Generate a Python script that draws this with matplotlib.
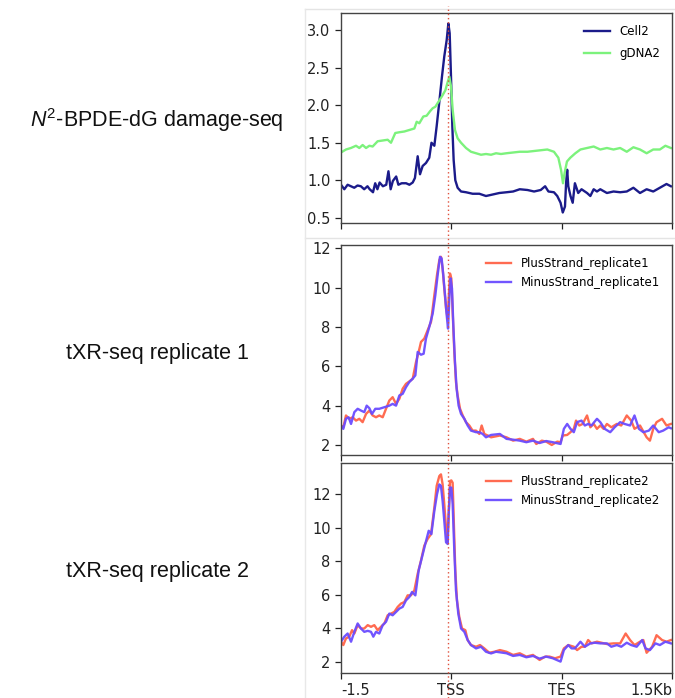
import numpy as np
import matplotlib
matplotlib.use("Agg")
import matplotlib.pyplot as plt
from matplotlib.lines import Line2D

plt.rcParams['mathtext.fontset'] = 'custom'
plt.rcParams['mathtext.rm'] = 'Liberation Sans'
plt.rcParams['mathtext.it'] = 'Liberation Sans:italic'

# x is in profile bins: 0 = -1.5kb, 100 = TSS, 200 = TES, 300 = +1.5kb
xtick_pos = [0, 100, 200, 300]
xtick_labels = ["-1.5", "TSS", "TES", "1.5Kb"]
row_labels = [r"$\mathit{N}^{2}$-BPDE-dG damage-seq", "tXR-seq replicate 1", "tXR-seq replicate 2"]

# damage-seq panel
cell2_bin = [0, 3, 6, 9, 12, 15, 18, 21, 24, 26, 29, 31, 33, 35, 38, 41, 43, 45, 47, 50,
             52, 55, 59, 62, 65, 67, 69.5, 71.6, 74, 77, 80, 82, 84.6, 86.7, 89, 91.5, 93.6,
             95.8, 97.3, 98.5, 99.7, 100.9, 102.1, 103.6, 105.7, 108.8, 113.3, 119.3, 125.4,
             131.4, 137.5, 143.5, 150, 156, 162, 169, 175, 181, 185, 188, 193, 196, 199, 201,
             203, 204, 205, 206, 208, 210, 212, 215, 218, 223, 226, 229, 232, 235, 241, 247,
             253, 259, 265, 271, 277, 283, 289, 295, 299]
cell2_val = [0.94, 0.88, 0.94, 0.92, 0.90, 0.93, 0.92, 0.88, 0.92, 0.88, 0.84, 0.96, 0.88,
             0.97, 0.92, 0.94, 1.12, 0.88, 0.99, 1.05, 0.94, 0.96, 0.96, 0.94, 0.97, 1.03,
             1.32, 1.08, 1.19, 1.23, 1.30, 1.50, 1.46, 1.72, 2.03, 2.38, 2.65, 2.87, 3.09,
             2.96, 2.38, 1.72, 1.27, 1.00, 0.90, 0.85, 0.84, 0.82, 0.82, 0.79, 0.81, 0.83,
             0.84, 0.85, 0.88, 0.87, 0.85, 0.87, 0.92, 0.85, 0.84, 0.79, 0.70, 0.57, 0.65,
             0.96, 1.14, 0.92, 0.79, 0.70, 0.96, 0.83, 0.88, 0.83, 0.79, 0.88, 0.85, 0.88,
             0.83, 0.85, 0.84, 0.85, 0.90, 0.83, 0.88, 0.85, 0.90, 0.95, 0.92]

gdna2_bin = [0, 4.5, 9, 13.6, 16.6, 19.6, 22.7, 25.7, 28.7, 33.2, 37.8, 42.3, 45.3, 49.2,
             52.9, 57.4, 61.9, 66.5, 68.6, 71, 74.6, 77.6, 80.7, 83.1, 85.5, 88.5, 91.5, 94.6,
             96.7, 98.2, 99.7, 101.2, 103.3, 105.7, 108.8, 113.3, 117.8, 122.4, 126.9, 131.4,
             136, 140.5, 145, 150, 156, 162, 169, 175, 181, 187, 193, 197, 199.4, 201.2,
             202.7, 204.8, 207.8, 212.4, 217, 223, 229, 235, 241, 247, 253, 259, 265, 271,
             277, 283, 289, 294, 299]
gdna2_val = [1.37, 1.41, 1.43, 1.46, 1.43, 1.47, 1.43, 1.46, 1.45, 1.52, 1.53, 1.54, 1.50,
             1.63, 1.64, 1.65, 1.67, 1.69, 1.78, 1.76, 1.85, 1.86, 1.92, 1.96, 1.98, 2.05,
             2.12, 2.20, 2.31, 2.38, 2.25, 1.94, 1.67, 1.56, 1.50, 1.43, 1.38, 1.36, 1.34,
             1.35, 1.34, 1.36, 1.35, 1.36, 1.37, 1.38, 1.38, 1.39, 1.40, 1.41, 1.38, 1.30,
             1.14, 0.96, 1.10, 1.25, 1.30, 1.36, 1.41, 1.43, 1.45, 1.41, 1.43, 1.41, 1.43,
             1.38, 1.44, 1.41, 1.36, 1.41, 1.41, 1.46, 1.43]

# tXR-seq replicate 1
plus1_bin = [0, 2.1, 4.5, 7.5, 10.6, 13.6, 16.6, 19.6, 22.7, 25.7, 28.7, 31.7, 34.7, 37.8,
             40.8, 43.8, 46.8, 49.9, 52.9, 55.9, 58.9, 61.9, 65, 68, 70.4, 72.5, 75.5, 78.5,
             81.6, 84.6, 87, 89.1, 90.6, 92.1, 93.6, 95.2, 96.7, 97.6, 98.8, 100, 101.2,
             102.7, 104.2, 105.7, 107.9, 110.3, 113.3, 116.3, 119.3, 122.4, 125.4, 127.5,
             129.9, 133, 136, 144, 150, 156, 162, 168, 174, 177, 182, 186, 191, 196, 199,
             201, 205, 208, 211, 213, 216, 219, 223, 226, 229, 232, 235, 238, 241, 245, 250,
             254, 259, 263, 266, 271, 277, 280, 283, 286, 291, 295, 299]
plus1_val = [2.99, 2.90, 3.50, 3.33, 3.41, 3.24, 3.33, 3.16, 3.58, 3.75, 3.50, 3.41, 3.50,
             3.41, 3.84, 4.26, 4.43, 4.09, 4.35, 4.86, 5.11, 5.23, 5.37, 6.22, 6.73, 7.24,
             7.41, 7.83, 8.26, 9.62, 10.64, 11.40, 11.57, 10.98, 9.96, 8.94, 8.43, 9.45,
             10.72, 10.47, 8.77, 6.73, 5.20, 4.52, 3.84, 3.50, 3.16, 2.99, 2.73, 2.73, 2.56,
             2.99, 2.56, 2.48, 2.39, 2.48, 2.39, 2.22, 2.31, 2.17, 2.31, 2.05, 2.22, 2.17,
             2.00, 2.17, 2.14, 2.48, 2.51, 2.65, 2.82, 3.24, 2.99, 3.07, 3.50, 2.90, 3.07,
             2.82, 2.99, 2.82, 3.07, 2.90, 3.07, 2.99, 3.50, 3.24, 2.82, 2.99, 2.39, 2.22,
             2.82, 3.16, 3.33, 2.99, 3.07]

minus1_bin = [0, 2.1, 4.5, 6.9, 9.1, 12.1, 15.1, 18.1, 21.1, 23.3, 25.7, 28.1, 31.1, 34.7,
              39.3, 43.8, 46.8, 49.9, 52.9, 55.9, 58.9, 61.9, 65, 67.4, 69.5, 72.5, 74.9, 77,
              80, 83.1, 85.5, 87.6, 89.7, 91.2, 92.7, 94.3, 95.8, 97, 98.2, 99.4, 100.6,
              101.8, 103.3, 104.8, 106.6, 108.8, 111.8, 114.8, 117.8, 122.4, 125.4, 128.4,
              131.4, 136, 144, 150, 156, 162, 168, 174, 180, 186, 192, 199, 202, 205, 208,
              211, 214, 218, 221, 224, 227, 232, 235, 239, 244, 248, 253, 257, 262, 266, 270,
              274, 279, 283, 288, 292, 297, 299]
minus1_val = [2.99, 2.82, 3.33, 3.41, 3.07, 3.67, 3.84, 3.75, 3.67, 4.00, 3.87, 3.58, 3.84,
              3.84, 3.92, 4.00, 4.09, 4.00, 4.52, 4.60, 4.94, 5.20, 5.37, 5.54, 6.73, 6.59,
              6.64, 7.41, 8.00, 8.68, 9.62, 10.64, 11.57, 11.49, 10.64, 9.62, 8.60, 7.92,
              9.45, 10.47, 9.96, 8.09, 6.22, 4.86, 4.00, 3.58, 3.33, 2.99, 2.73, 2.65, 2.65,
              2.56, 2.39, 2.51, 2.56, 2.31, 2.27, 2.22, 2.14, 2.22, 2.10, 2.20, 2.14, 2.05,
              2.82, 3.07, 2.82, 2.65, 3.16, 3.24, 2.99, 3.07, 2.99, 3.33, 3.16, 2.82, 2.65,
              2.90, 3.16, 3.07, 2.99, 3.50, 2.82, 2.65, 2.73, 2.99, 2.65, 2.73, 2.90, 2.85]

# tXR-seq replicate 2
plus2_bin = [0, 2.1, 4.5, 7.5, 10, 12.1, 15.1, 18.1, 21.1, 24.2, 27.2, 30.2, 33.2, 36.2,
             39.3, 42.3, 45.3, 48.3, 51.4, 54.4, 57.4, 60.4, 63.4, 66.5, 69.5, 72.5, 75.5,
             78.5, 81.6, 84.6, 86.7, 89.1, 90.6, 92.1, 93.6, 95.2, 96.4, 97.6, 98.8, 100,
             101.2, 102.4, 103.6, 105.1, 107.2, 109.7, 112.7, 114.8, 117.8, 122.4, 126,
             129.9, 134.4, 139, 144, 150, 156, 162, 168, 174, 180, 185, 189, 194, 199, 202,
             206, 211, 214, 218, 221, 224, 227, 232, 236, 241, 247, 253, 258, 262, 266, 271,
             274, 277, 282, 286, 291, 295, 299]
plus2_val = [3.19, 2.99, 3.39, 3.49, 3.88, 3.68, 4.18, 3.98, 3.98, 4.18, 4.08, 4.18, 3.88,
             4.08, 4.28, 4.77, 4.87, 4.97, 5.27, 5.47, 5.56, 5.96, 5.96, 6.26, 7.25, 8.04,
             8.93, 9.33, 9.62, 11.21, 12.50, 13.09, 13.19, 12.59, 11.41, 10.02, 9.13, 10.81,
             12.79, 12.83, 12.69, 10.02, 7.45, 5.66, 4.67, 3.98, 3.88, 3.29, 2.99, 2.89,
             2.99, 2.79, 2.53, 2.59, 2.69, 2.59, 2.40, 2.50, 2.30, 2.40, 2.10, 2.30, 2.30,
             2.20, 2.30, 2.79, 2.99, 2.89, 2.69, 2.89, 2.89, 3.29, 3.09, 3.19, 3.13, 3.05,
             3.09, 3.09, 3.68, 3.29, 2.99, 3.19, 3.29, 2.53, 2.89, 3.58, 3.29, 3.19, 3.29]

minus2_bin = [0, 3, 6, 9.1, 12.1, 15.1, 18.1, 21.1, 24.2, 27.2, 29.3, 31.7, 34.7, 37.8,
              40.8, 43.8, 46.8, 49.9, 52.9, 55.9, 58.9, 61.9, 64.4, 67.4, 70.4, 73.4, 76.4,
              79.5, 81.9, 84.6, 87, 89.1, 90.6, 92.1, 93.6, 95.2, 96.7, 97.6, 98.8, 100,
              101.2, 102.7, 104.2, 106.3, 108.8, 111.8, 114.8, 117.8, 122.4, 126.9, 131.4,
              136, 140.5, 150, 156, 162, 168, 174, 180, 186, 192, 199, 202, 206, 209, 212,
              217, 221, 226, 230, 235, 241, 245, 250, 254, 259, 263, 268, 273, 276, 280, 285,
              289, 294, 299]
minus2_val = [3.19, 3.49, 3.68, 3.19, 3.78, 4.28, 3.98, 3.78, 3.84, 3.78, 3.49, 3.78, 3.68,
              4.18, 4.38, 4.87, 4.77, 4.97, 5.17, 5.27, 5.66, 5.86, 6.16, 5.96, 7.45, 8.24,
              9.03, 9.82, 9.62, 11.01, 12.00, 12.59, 12.50, 11.60, 10.42, 9.13, 9.03, 10.81,
              12.40, 12.40, 11.41, 8.63, 6.26, 4.87, 3.98, 3.78, 3.29, 2.99, 2.79, 2.89,
              2.59, 2.49, 2.59, 2.50, 2.34, 2.40, 2.26, 2.34, 2.18, 2.30, 2.20, 2.00, 2.69,
              2.99, 2.79, 2.79, 3.19, 2.89, 3.09, 3.13, 3.09, 3.09, 2.89, 2.99, 2.89, 3.13,
              2.99, 2.89, 3.29, 2.79, 2.69, 3.09, 2.99, 3.19, 3.09]

panels = [
    dict(series=[("Cell2", cell2_bin, cell2_val, "#1b1b8a"),
                 ("gDNA2", gdna2_bin, gdna2_val, "#7cf27c")],
         ylim=(0.43, 3.23), yticks=[0.5, 1.0, 1.5, 2.0, 2.5, 3.0], yfmt="{:.1f}", lspace=0.75),
    dict(series=[("PlusStrand_replicate1", plus1_bin, plus1_val, "#ff6347"),
                 ("MinusStrand_replicate1", minus1_bin, minus1_val, "#6a4cff")],
         ylim=(1.49, 12.17), yticks=[2, 4, 6, 8, 10, 12], yfmt="{:d}", lspace=0.5),
    dict(series=[("PlusStrand_replicate2", plus2_bin, plus2_val, "#ff6347"),
                 ("MinusStrand_replicate2", minus2_bin, minus2_val, "#6a4cff")],
         ylim=(1.32, 13.87), yticks=[2, 4, 6, 8, 10, 12], yfmt="{:d}", lspace=0.5),
]

W, H = 675, 698
fig = plt.figure(figsize=(W / 100, H / 100), dpi=100)

# axes boxes in pixels: (top, bottom)
boxes = [(13, 223), (245, 455), (463, 673)]
left_px, right_px = 341, 672
label_y = [120, 353, 572]

for i, (p, (top, bot)) in enumerate(zip(panels, boxes)):
    ax = fig.add_axes([left_px / W, 1 - bot / H, (right_px - left_px) / W, (bot - top) / H])
    for name, xb, yv, c in p["series"]:
        ax.plot(xb, yv, color=c, lw=1.7, label=name, alpha=0.95 if i else 1.0)
    ax.set_xlim(0, 300)
    ax.set_ylim(*p["ylim"])
    ax.set_yticks(p["yticks"])
    ax.set_yticklabels([p["yfmt"].format(v) for v in p["yticks"]])
    ax.set_xticks(xtick_pos)
    if i == 2:
        ax.set_xticklabels(xtick_labels)
        lbls = ax.get_xticklabels()
        lbls[0].set_horizontalalignment("left")
        lbls[-1].set_horizontalalignment("right")
    else:
        ax.set_xticklabels([])
    ax.tick_params(axis="both", labelsize=10.5, colors="#222222", length=4, width=0.9)
    for s in ax.spines.values():
        s.set_color("#444444")
        s.set_linewidth(1.0)
    ax.legend(loc="upper right", frameon=False, fontsize=8.5, labelspacing=p["lspace"],
              handlelength=2.2, borderaxespad=0.6)
    fig.text(157 / W, 1 - label_y[i] / H, row_labels[i], ha="center", va="center",
             fontsize=15.5, family="Liberation Sans", color="#111111")

# composite-frame guide lines and the dotted TSS marker across all panels
fig.add_artist(Line2D([305 / W, 1], [1 - 9 / H, 1 - 9 / H], color="#e4e4e4", lw=1))
fig.add_artist(Line2D([305 / W, 1], [1 - 238 / H, 1 - 238 / H], color="#e4e4e4", lw=1))
fig.add_artist(Line2D([305 / W, 305 / W], [0, 1 - 9 / H], color="#e8e8e8", lw=1))
fig.add_artist(Line2D([448 / W, 448 / W], [0, 1 - 6 / H], color="#e0503c", lw=1.0,
                      linestyle=(0, (1, 2))))

fig.savefig("out.png", dpi=100)
